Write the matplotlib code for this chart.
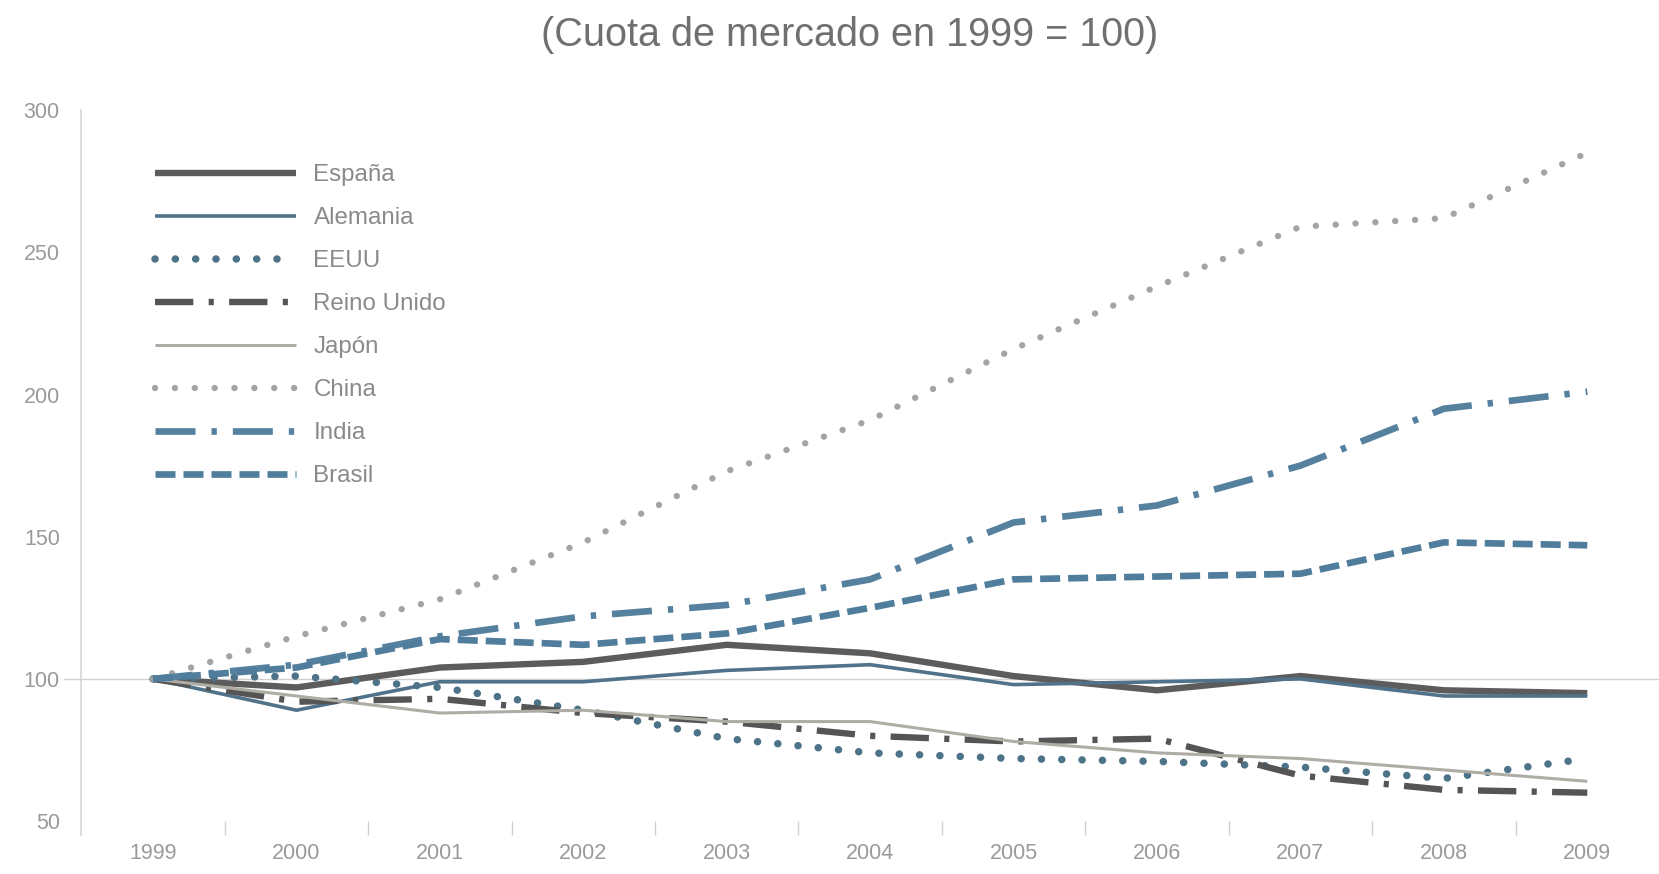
"""Market share index by country, 1999-2009 (1999 = 100)."""

import matplotlib
matplotlib.use("Agg")
import matplotlib.pyplot as plt

YEARS = list(range(1999, 2010))

ESPANA = [100, 97, 104, 106, 112, 109, 101, 96, 101, 96, 95]
ALEMANIA = [100, 89, 99, 99, 103, 105, 98, 99, 100, 94, 94]
EEUU = [100, 101, 97, 89, 79, 74, 72, 71, 69, 65, 72]
REINO_UNIDO = [100, 92, 93, 88, 85, 80, 78, 79, 66, 61, 60]
JAPON = [100, 94, 88, 89, 85, 85, 78, 74, 72, 68, 64]
CHINA = [100, 115, 128, 148, 173, 191, 216, 238, 259, 262, 285]
INDIA = [100, 105, 115, 122, 126, 135, 155, 161, 175, 195, 201]
BRASIL = [100, 104, 114, 112, 116, 125, 135, 136, 137, 148, 147]

LABELS = ["España", "Alemania", "EEUU", "Reino Unido", "Japón", "China", "India", "Brasil"]

FONT = ["Liberation Sans", "DejaVu Sans"]
TEXT_GREY = "#9a9a9a"

plt.rcParams.update({
    "font.family": FONT,
    "figure.dpi": 100,
})

STYLES = [
    dict(color="#5c5c5c", lw=4.6, ls="-", solid_capstyle="butt"),
    dict(color="#50728a", lw=2.6, ls="-", solid_capstyle="butt"),
    dict(color="#4d7388", lw=5.4, ls=(0, (0.01, 2.7)), dash_capstyle="round"),
    dict(color="#555555", lw=4.6, ls=(0, (6.0, 2.4, 0.8, 2.4)), dash_capstyle="butt"),
    dict(color="#aeaca4", lw=2.2, ls="-", solid_capstyle="butt"),
    dict(color="#a4a4a4", lw=4.6, ls=(0, (0.01, 3.1)), dash_capstyle="round"),
    dict(color="#55819f", lw=4.8, ls=(0, (6.0, 2.4, 0.8, 2.4)), dash_capstyle="butt"),
    dict(color="#4f7d9b", lw=4.8, ls=(0, (3.0, 1.2)), dash_capstyle="butt"),
]

SERIES = [ESPANA, ALEMANIA, EEUU, REINO_UNIDO, JAPON, CHINA, INDIA, BRASIL]

fig = plt.figure(figsize=(16.59, 8.74))
ax = fig.add_axes([0.049, 0.0605, 0.951, 0.8135])

# reference line at 100, poking out a little past the left spine
ax.axhline(100, xmin=-0.011, xmax=1.0, color="#d0d0d0", lw=1.0, clip_on=False, zorder=1)

handles = []
for values, label, style in zip(SERIES, LABELS, STYLES):
    (line,) = ax.plot(YEARS, values, label=label, solid_joinstyle="round", dash_joinstyle="round",
                      zorder=3, **style)
    handles.append(line)

ax.set_xlim(1998.5, 2009.5)
ax.set_ylim(50, 300)
ax.set_yticks([50, 100, 150, 200, 250, 300])
ax.set_xticks(YEARS)
ax.set_xticks([y + 0.5 for y in YEARS[:-1]], minor=True)

for side in ("top", "right", "bottom"):
    ax.spines[side].set_visible(False)
ax.spines["left"].set_color("#d6d6d6")
ax.spines["left"].set_linewidth(1.2)
ax.spines["left"].set_bounds(45, 300)

ax.tick_params(axis="y", length=0, pad=15.5, labelsize=15.5, labelcolor=TEXT_GREY)
ax.tick_params(axis="x", which="major", length=0, pad=16, labelsize=15.5, labelcolor=TEXT_GREY)
ax.tick_params(axis="x", which="minor", direction="out", length=10, width=1.0, color="#d0d0d0")

fig.legend(handles=handles, labels=LABELS, loc="upper left",
           bbox_to_anchor=(0.0937, 1 - 164 / 874), bbox_transform=fig.transFigure,
           frameon=False, borderpad=0, borderaxespad=0, fontsize=17.4,
           handlelength=5.8, handletextpad=0.74, labelspacing=0.87, labelcolor="#8a8a8a")

fig.text(0.512, 0.96, "(Cuota de mercado en 1999 = 100)", ha="center", va="center",
         fontsize=28.5, color="#707070")

fig.savefig("out.png", dpi=100, facecolor="white")
